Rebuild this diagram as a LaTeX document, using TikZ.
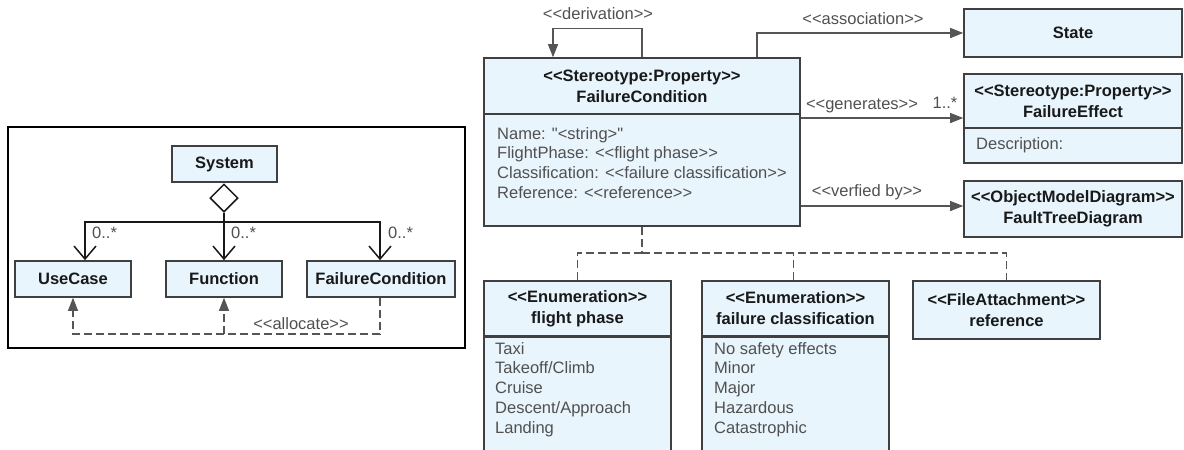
\documentclass[tikz,border=0pt]{standalone}
\usepackage{fontspec}
\setmainfont{Liberation Sans}[Ligatures=TeXOff]
\usetikzlibrary{arrows.meta,shapes.geometric,calc}
\definecolor{fillc}{RGB}{232,245,253}
\definecolor{boxc}{RGB}{64,64,64}
\definecolor{linec}{RGB}{85,85,85}
\definecolor{titlec}{RGB}{25,25,25}
\definecolor{textc}{RGB}{80,80,80}
\newcommand\fsz{\fontsize{16.5}{21}\selectfont}
\newcommand\fsr{\fontsize{16.5}{19.8}\selectfont}
\tikzset{
  box/.style={draw=boxc, line width=1.6pt, fill=fillc, inner sep=0pt, align=center,
    font=\fsz\bfseries, text=titlec},
  attr/.style={inner sep=0pt, align=left, font=\fsr, text=textc},
  lbl/.style={inner sep=0pt, font=\fsr, text=textc},
  conn/.style={draw=linec, line width=1.2pt},
  arr/.style={conn, -{Triangle[length=13pt,width=10pt]}},
  dsh/.style={conn, dash pattern=on 8pt off 4pt},
  darr/.style={dsh, -{Triangle[length=13pt,width=10pt]}},
  comp/.style={draw=titlec, line width=1.5pt},
  openarr/.style={comp, -{Straight Barb[length=13pt,width=22pt,line width=1.5pt]}},
}
\begin{document}
\begin{tikzpicture}[x=1pt,y=-1pt]
\useasboundingbox (0,0) rectangle (1184,450);
\clip (0,0) rectangle (1184,450);

% ---------- left panel ----------
\node[draw=black, line width=1.6pt, minimum width=457pt, minimum height=221pt, inner sep=0pt] (frame) at (236.5,237.5) {};
\node[box, minimum width=105pt, minimum height=36pt] (sys) at (224.5,164) {System};
\node[draw=titlec, line width=1.5pt, fill=white, diamond, aspect=1, minimum width=28pt, minimum height=28pt, inner sep=0pt] (dia) at (224,198) {};
\node[box, minimum width=116pt, minimum height=36pt] (uc) at (73,279) {UseCase};
\node[box, minimum width=116pt, minimum height=36pt] (fn) at (224,279) {Function};
\node[box, minimum width=148pt, minimum height=36pt] (fcl) at (381,279) {FailureCondition};
\coordinate (bus) at (224,222);
\draw[openarr] (dia.south) -- (fn.north);
\draw[openarr] (bus) -| ([xshift=12pt]uc.north);
\draw[openarr] (bus) -| ([xshift=-1pt]fcl.north);
\node[lbl, anchor=west] (m1) at (92,233) {0..*};
\node[lbl, anchor=west] (m2) at (231,233) {0..*};
\node[lbl, anchor=west] (m3) at (388,233) {0..*};
\coordinate (alc) at (380,334);
\draw[darr] ([xshift=-1pt]fcl.south) -- (alc) -| (uc.south);
\draw[darr] (fn.south |- alc) -- (fn.south);
\node[lbl] (alloc) at (301,324) {<{}<allocate>{}>};

% ---------- main class ----------
\node[box, minimum width=316pt, minimum height=56pt] (fct) at (642,86) {<{}<Stereotype:Property>{}>\\FailureCondition};
\node[box, minimum width=316pt, minimum height=112pt] (fcb) at (642,170) {};
\node[attr, anchor=north west] (fca) at (497,127) {Name: "<string>"\\FlightPhase: <{}<flight phase>{}>\\Classification: <{}<failure classification>{}>\\Reference: <{}<reference>{}>};

% derivation
\draw[arr] (fct.north) -- ++(0,-29) -| ([xshift=-89pt]fct.north);
\node[lbl] (der) at (598,14) {<{}<derivation>{}>};

% State
\node[box, minimum width=218pt, minimum height=48pt] (state) at (1073,33) {State};
\draw[arr] ([xshift=115pt]fct.north) |- (state.west);
\node[lbl] (ass) at (863,19) {<{}<association>{}>};

% FailureEffect
\node[box, minimum width=218pt, minimum height=54pt] (fet) at (1073,101) {<{}<Stereotype:Property>{}>\\FailureEffect};
\node[box, minimum width=218pt, minimum height=35pt] (feb) at (1073,145.5) {};
\node[attr, anchor=west] (fed) at (976,145) {Description:};
\coordinate (gy) at (0,118);
\draw[arr] (fcb.east |- gy) -- (fet.west |- gy);
\node[lbl] (gen) at (862,106) {<{}<generates>{}>};
\node[lbl] (mul) at (945,103) {1..*};

% FaultTreeDiagram
\node[box, minimum width=218pt, minimum height=56pt] (ftd) at (1073,209) {<{}<ObjectModelDiagram>{}>\\FaultTreeDiagram};
\coordinate (vy) at (0,206);
\draw[arr] (fcb.east |- vy) -- (ftd.west |- vy);
\node[lbl] (ver) at (867,192) {<{}<verfied by>{}>};

% ---------- bottom ----------
\node[box, minimum width=187pt, minimum height=55pt] (fpt) at (577.5,308.5) {<{}<Enumeration>{}>\\flight phase};
\node[box, minimum width=187pt, minimum height=124pt, anchor=north] (fpb) at (fpt.south) {};
\node[attr, anchor=north west] (fpa) at (495,342) {Taxi\\Takeoff/Climb\\Cruise\\Descent/Approach\\Landing};

\node[box, minimum width=187pt, minimum height=55pt] (fclt) at (795.5,308.5) {<{}<Enumeration>{}>\\failure classification};
\node[box, minimum width=187pt, minimum height=124pt, anchor=north] (fclb) at (fclt.south) {};
\node[attr, anchor=north west] (fcla) at (714,342) {No safety effects\\Minor\\Major\\Hazardous\\Catastrophic};

\node[box, minimum width=187pt, minimum height=58pt] (ref) at (1006.5,310) {<{}<FileAttachment>{}>\\reference};

\coordinate (j) at (642,253);
\draw[dsh] (fcb.south) -- (j);
\draw[dsh] (fpt.north) |- (j);
\draw[dsh] ([xshift=-2pt]fclt.north) -- ([xshift=-2pt]fclt.north |- j);
\draw[dsh] (j) -| (ref.north);
\end{tikzpicture}
\end{document}
